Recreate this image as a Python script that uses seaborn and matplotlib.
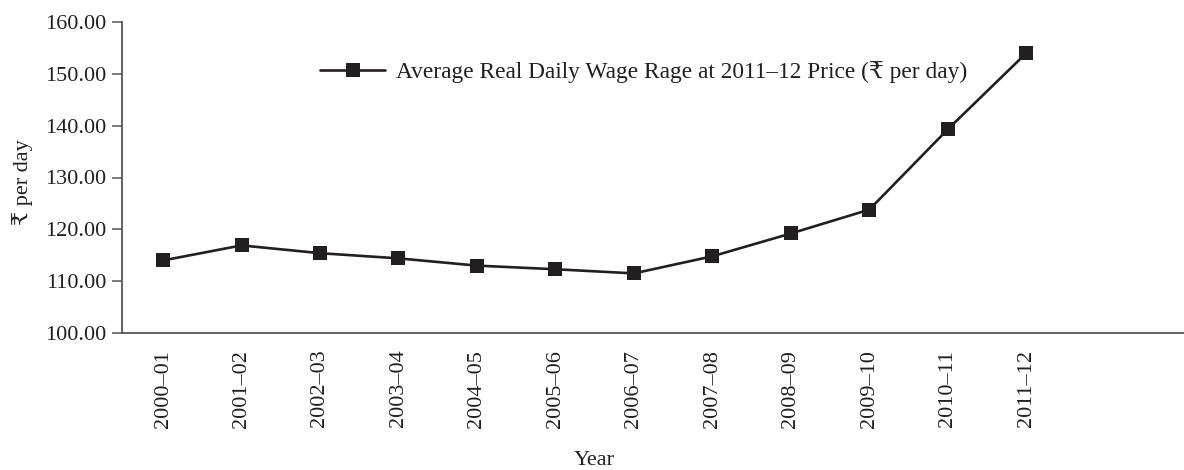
import matplotlib
matplotlib.use("Agg")
import matplotlib.pyplot as plt
import seaborn as sns
import pandas as pd
from matplotlib.ticker import FormatStrFormatter, MultipleLocator

years = ["2000–01", "2001–02", "2002–03", "2003–04", "2004–05", "2005–06",
         "2006–07", "2007–08", "2008–09", "2009–10", "2010–11", "2011–12"]
wage = [114.0, 116.9, 115.4, 114.4, 113.0, 112.3,
        111.5, 114.8, 119.2, 123.8, 139.3, 154.0]
series_label = "Average Real Daily Wage Rage at 2011–12 Price (₹ per day)"

sns.set_theme(style="white")
plt.rcParams['font.family'] = ['Liberation Serif', 'DejaVu Serif', 'DejaVu Sans']
ink = "#231f20"
plt.rcParams['text.color'] = ink
plt.rcParams['axes.labelcolor'] = ink
plt.rcParams['xtick.color'] = ink
plt.rcParams['ytick.color'] = ink

df = pd.DataFrame({"Year": years, "wage": wage})

fig = plt.figure(figsize=(11.84, 4.70), dpi=100)
W, H = 1184, 470
ax = fig.add_axes([122 / W, 1 - 333 / H, (1184 - 122) / W, (333 - 22) / H])

sns.lineplot(data=df, x="Year", y="wage", ax=ax, sort=False, color=ink,
             marker="s", markersize=10, markeredgewidth=0, linewidth=1.9,
             label=series_label)

ax.set_ylim(100, 160)
ax.yaxis.set_major_locator(MultipleLocator(10))
ax.yaxis.set_major_formatter(FormatStrFormatter("%.2f"))
ax.set_xlim(-0.523, 13.01)

for s in ["top", "right"]:
    ax.spines[s].set_visible(False)
for s in ["left", "bottom"]:
    ax.spines[s].set_color("#555555")
    ax.spines[s].set_linewidth(1.3)

ax.tick_params(axis="y", direction="out", length=7, width=1.1, color="#555555",
               pad=4, labelsize=16, left=True)
ax.tick_params(axis="x", length=0, pad=12, labelsize=16, labelrotation=90)

ax.set_xlabel("Year", fontsize=16)
ax.xaxis.set_label_coords((594 - 122) / (1184 - 122), -0.38)
ax.set_ylabel("₹ per day", fontsize=16)
ax.yaxis.set_label_coords(-0.084, 0.486)

leg = ax.legend(loc="center left", bbox_to_anchor=(320 / W, 1 - 72 / H),
                bbox_transform=fig.transFigure, frameon=False, fontsize=16.8,
                handlelength=2.8, handletextpad=0.45, borderpad=0, borderaxespad=0)

fig.savefig("out.png", dpi=100)
